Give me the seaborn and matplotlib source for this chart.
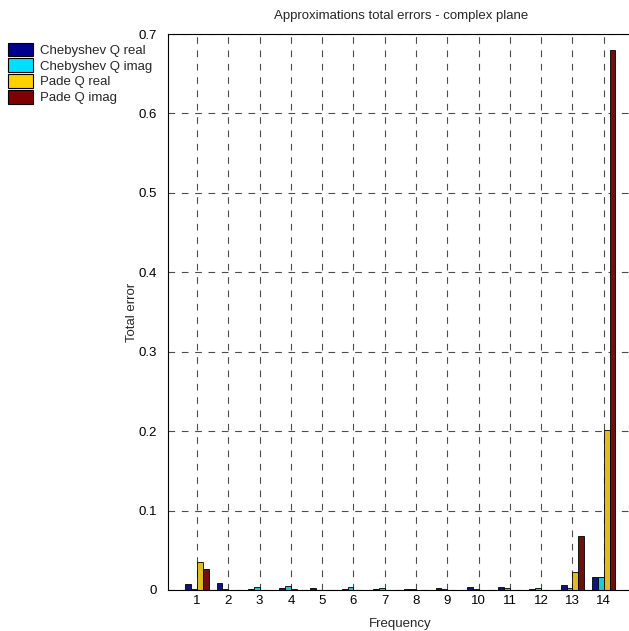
import pandas as pd
import matplotlib
matplotlib.use('Agg')
import matplotlib.pyplot as plt
import seaborn as sns

# values
frequencies = list(range(1, 15))
series_names = ["Chebyshev Q real", "Chebyshev Q imag", "Pade Q real", "Pade Q imag"]
cheb_real = [0.007, 0.009, 0.001, 0.003, 0.003, 0.001, 0.001, 0.001, 0.002, 0.004, 0.004, 0.001, 0.006, 0.016]
cheb_imag = [0.001, 0.001, 0.004, 0.005, 0.0005, 0.004, 0.002, 0.001, 0.001, 0.001, 0.002, 0.003, 0.002, 0.016]
pade_real = [0.035, 0.0005, 0.0005, 0.001, 0.0005, 0.0005, 0.0005, 0.0005, 0.0005, 0.0005, 0.0005, 0.0005, 0.023, 0.201]
pade_imag = [0.027, 0.0005, 0.0005, 0.0005, 0.0005, 0.0005, 0.0005, 0.0005, 0.0005, 0.0005, 0.0005, 0.0005, 0.068, 0.680]
colors = ["#00008F", "#00DFFF", "#FFD000", "#7F0000"]

rows = []
for name, vals in zip(series_names, [cheb_real, cheb_imag, pade_real, pade_imag]):
    for f, v in zip(frequencies, vals):
        rows.append({"Frequency": f, "Error": v, "Series": name})
df = pd.DataFrame(rows)

sns.set_theme(style="white")
plt.rcParams['font.family'] = ['Liberation Sans', 'DejaVu Sans']

fig = plt.figure(figsize=(6.29, 6.31), dpi=100)
# the axes run off the right edge of the figure, as in the reference
ax = fig.add_axes([0.267, 0.065, 0.74, 0.881])

sns.barplot(
    data=df, x="Frequency", y="Error", hue="Series",
    palette=colors, width=0.75, edgecolor="black", linewidth=0.6,
    ax=ax, legend=False, errorbar=None,
)

ax.set_xlim(-0.93, 13.95)
ax.set_ylim(0, 0.7)
ax.set_yticks([0, 0.1, 0.2, 0.3, 0.4, 0.5, 0.6, 0.7])
ax.set_yticklabels(["0", "0.1", "0.2", "0.3", "0.4", "0.5", "0.6", "0.7"])
ax.grid(True, color="black", linestyle=(0, (6, 6)), linewidth=0.8, alpha=0.7)
ax.set_axisbelow(True)
for s in ax.spines.values():
    s.set_color("black")
    s.set_linewidth(0.8)
ax.tick_params(axis="both", labelsize=9.5, colors="black", length=3, direction="in")
ax.tick_params(axis="y", pad=8)
ax.set_xlabel("Frequency", fontsize=9.5, labelpad=8)
ax.set_ylabel("Total error", fontsize=9.5, labelpad=0)
ax.set_title("Approximations total errors - complex plane", fontsize=9.5, pad=11)

# legend outside, at top left of the figure
handles = [plt.Rectangle((0, 0), 1, 1, facecolor=c, edgecolor="black", linewidth=0.8) for c in colors]
fig.legend(handles, series_names, loc="upper left", bbox_to_anchor=(0.0, 0.945),
           frameon=False, fontsize=9.5, handlelength=1.9, handleheight=1.2,
           handletextpad=0.5, labelspacing=0.12, borderaxespad=0.2)

fig.savefig("out.png", dpi=100)
